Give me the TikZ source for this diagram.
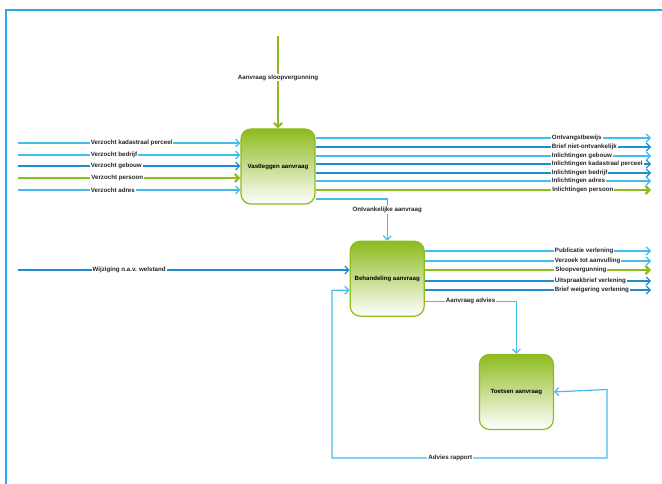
\documentclass[tikz,border=0pt]{standalone}
\usepackage{fontspec}
\setmainfont{Liberation Sans}
\usepackage{tikz}
\usetikzlibrary{arrows.meta, positioning}
\definecolor{colorFlow}{RGB}{70,188,236}
\definecolor{colorFlowDark}{RGB}{30,142,208}
\definecolor{colorMain}{RGB}{142,187,30}
\definecolor{colorFrame}{RGB}{40,172,228}
\tikzset{
  activity/.style={draw=colorMain, line width=1.2pt, rounded corners=10pt, minimum width=74pt, minimum height=75pt, inner sep=0pt, top color=colorMain, bottom color=white, font=\fontsize{6.1}{7}\selectfont\bfseries},
  flow/.style={colorFlow, line width=1.2pt, -{Straight Barb[length=4pt, width=8pt]}},
  flowdark/.style={flow, colorFlowDark},
  mainflow/.style={colorMain, line width=2.2pt, -{Straight Barb[length=4pt, width=8pt]}},
  lbl/.style={fill=white, inner sep=1pt, text=black!85, font=\fontsize{6.2}{7}\selectfont\bfseries}
}

\begin{document}
\begin{tikzpicture}[x=1pt, y=-1pt]
\useasboundingbox (0,0) rectangle (662,484);
\draw[colorFrame, line width=1.6pt] (6,484) -- (6,10) -- (662,10);

\node[activity] (vast) at (278,166.5) {Vastleggen aanvraag};
\node[activity, below right=36pt and 34pt of vast] (behan) {Behandeling aanvraag};
\node[activity, below right=37pt and 54pt of behan] (toets) {Toetsen aanvraag};

% ingangen
\coordinate (inAanvraag) at (278,36);
\coordinate (inPerceel) at (18,143);
\coordinate (inBedrijf) at (18,155);
\coordinate (inGebouw) at (18,166);
\coordinate (inPersoon) at (18,178);
\coordinate (inAdres) at (18,190);
\coordinate (inWelstand) at (18,270);
\draw[mainflow] (inAanvraag) -- node[lbl, pos=0.45]{Aanvraag sloopvergunning} (vast.north);
\draw[flow] (inPerceel) -- node[lbl, pos=0.32, anchor=west]{Verzocht kadastraal perceel} (vast.west |- inPerceel);
\draw[flow] (inBedrijf) -- node[lbl, pos=0.32, anchor=west]{Verzocht bedrijf} (vast.west |- inBedrijf);
\draw[flowdark] (inGebouw) -- node[lbl, pos=0.32, anchor=west]{Verzocht gebouw} (vast.west |- inGebouw);
\draw[mainflow] (inPersoon) -- node[lbl, pos=0.32, anchor=west]{Verzocht persoon} (vast.west |- inPersoon);
\draw[flow] (inAdres) -- node[lbl, pos=0.32, anchor=west]{Verzocht adres} (vast.west |- inAdres);
\draw[flowdark] (inWelstand) -- node[lbl, pos=0.22, anchor=west]{Wijziging n.a.v. welstand} (behan.west |- inWelstand);

% uitgangen vastleggen
\coordinate (outBewijs) at (651,138);
\coordinate (outBrief) at (651,147);
\coordinate (outGebouw) at (651,156);
\coordinate (outPerceel) at (651,164);
\coordinate (outBedrijf) at (651,173);
\coordinate (outAdres) at (651,181);
\coordinate (outPersoon) at (651,190);
\draw[flow] (vast.east |- outBewijs) -- node[lbl, pos=0.70, anchor=west]{Ontvangstbewijs} (outBewijs);
\draw[flowdark] (vast.east |- outBrief) -- node[lbl, pos=0.70, anchor=west]{Brief niet-ontvankelijk} (outBrief);
\draw[flow] (vast.east |- outGebouw) -- node[lbl, pos=0.70, anchor=west]{Inlichtingen gebouw} (outGebouw);
\draw[flowdark] (vast.east |- outPerceel) -- node[lbl, pos=0.70, anchor=west]{Inlichtingen kadastraal perceel} (outPerceel);
\draw[flowdark] (vast.east |- outBedrijf) -- node[lbl, pos=0.70, anchor=west]{Inlichtingen bedrijf} (outBedrijf);
\draw[flow] (vast.east |- outAdres) -- node[lbl, pos=0.70, anchor=west]{Inlichtingen adres} (outAdres);
\draw[mainflow] (vast.east |- outPersoon) -- node[lbl, pos=0.70, anchor=west]{Inlichtingen persoon} (outPersoon);
\draw[flow] ([yshift=-32.5pt]vast.east) -| node[lbl, pos=0.63]{Ontvankelijke aanvraag} (behan.north);

% uitgangen behandeling
\coordinate (outPublicatie) at (651,251);
\coordinate (outAanvulling) at (651,261);
\coordinate (outSloop) at (651,270);
\coordinate (outUitspraak) at (651,281);
\coordinate (outWeigering) at (651,290);
\draw[flow] (behan.east |- outPublicatie) -- node[lbl, pos=0.568, anchor=west]{Publicatie verlening} (outPublicatie);
\draw[flow] (behan.east |- outAanvulling) -- node[lbl, pos=0.568, anchor=west]{Verzoek tot aanvulling} (outAanvulling);
\draw[mainflow] (behan.east |- outSloop) -- node[lbl, pos=0.568, anchor=west]{Sloopvergunning} (outSloop);
\draw[flowdark] (behan.east |- outUitspraak) -- node[lbl, pos=0.568, anchor=west]{Uitspraakbrief verlening} (outUitspraak);
\draw[flowdark] (behan.east |- outWeigering) -- node[lbl, pos=0.568, anchor=west]{Brief weigering verlening} (outWeigering);
\draw[flow] ([yshift=-22.5pt]behan.east) -| node[lbl, pos=0.25]{Aanvraag advies} (toets.north);

% terugkoppeling
\coordinate (advLinks) at (332,458);
\coordinate (advRechts) at (607,389.5);
\draw[flow, {Straight Barb[length=4pt, width=8pt]}-{Straight Barb[length=4pt, width=8pt]}] ([yshift=-11.5pt]behan.west) -| (advLinks) -| node[lbl, pos=0.215]{Advies rapport} (advRechts) -- (toets.east);
\end{tikzpicture}
\end{document}
